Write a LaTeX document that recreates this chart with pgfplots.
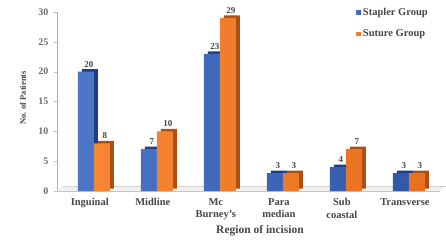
\documentclass[border=0pt]{standalone}
\usepackage{fontspec}
\setmainfont{Liberation Serif}
\usepackage{pgfplots}
\pgfplotsset{compat=1.18}
\definecolor{bfront}{RGB}{76,118,200}
\definecolor{bfrontd}{RGB}{50,88,170}
\definecolor{bside}{RGB}{33,60,128}
\definecolor{ofront}{RGB}{246,134,52}
\definecolor{ofrontd}{RGB}{232,112,30}
\definecolor{oside}{RGB}{168,80,22}
\definecolor{tgray}{RGB}{70,70,70}
\begin{document}
\begin{tikzpicture}
\begin{axis}[
  at={(57pt,51pt)}, anchor=south west,
  scale only axis, width=383pt, height=179pt,
  xmin=-0.52, xmax=5.556, ymin=0, ymax=30,
  ybar, bar width=16pt,
  xtick={0,1,2,3,4,5},
  xticklabels={Inguinal,Midline,{Mc\\Burney's},{Para\\median},{Sub\\coastal},Transverse},
  xticklabel style={align=center, font=\fontsize{10.5}{12.5}\selectfont\bfseries, text=tgray, anchor=north, yshift=-1pt},
  ytick={0,5,...,30},
  yticklabel style={font=\fontsize{10}{11}\selectfont\bfseries, text=gray!85!black, xshift=-2pt},
  /pgf/number format/assume math mode=true,
  axis x line*=bottom,
  x axis line style={draw=none},
  xtick style={draw=none},
  axis y line*=left,
  y axis line style={draw=gray!60, -},
  ytick style={draw=gray!50},
  major tick length=3pt,
  tick align=outside,
  clip=false,
  legend style={at={(0.78,1.035)}, anchor=north west, draw=none, fill=none,
    font=\fontsize{10.5}{12}\selectfont\bfseries, text=tgray, row sep=9pt, inner sep=0pt, cells={anchor=west}},
  legend cell align=left,
  nodes near coords,
  every node near coord/.append style={font=\fontsize{9}{10}\selectfont\bfseries, text=tgray, xshift=3pt, yshift=1pt},
]
% floor
\fill[gray!12] (axis cs:-0.52,0) -- (axis cs:5.556,0) -- ([xshift=6pt,yshift=5pt]axis cs:5.556,0) -- ([xshift=6pt,yshift=5pt]axis cs:-0.52,0) -- cycle;
\draw[gray!45] (axis cs:-0.52,0) -- (axis cs:5.556,0);
\draw[gray!35] ([xshift=6pt,yshift=5pt]axis cs:-0.52,0) -- ([xshift=6pt,yshift=5pt]axis cs:5.556,0);
% side faces
\addplot[forget plot, draw=none, fill=bside, bar shift=-4pt, xshift=4pt, yshift=2.5pt, nodes near coords={}] coordinates {(0,20) (1,7) (2,23) (3,3) (4,4) (5,3)};
\addplot[forget plot, draw=none, fill=oside, bar shift=12pt, xshift=4pt, yshift=2.5pt, nodes near coords={}] coordinates {(0,8) (1,10) (2,29) (3,3) (4,7) (5,3)};
% fronts
\addplot[draw=none, left color=bfront, right color=bfrontd, bar shift=-4pt,
  legend image code/.code={\fill[bfront] (0pt,-1.8pt) rectangle (5pt,1.8pt);}]
  coordinates {(0,20) (1,7) (2,23) (3,3) (4,4) (5,3)};
\addplot[draw=none, left color=ofront, right color=ofrontd, bar shift=12pt,
  legend image code/.code={\fill[ofront] (0pt,-1.8pt) rectangle (5pt,1.8pt);}]
  coordinates {(0,8) (1,10) (2,29) (3,3) (4,7) (5,3)};
\legend{Stapler Group, Suture Group}
\node[font=\fontsize{11.5}{13}\selectfont\bfseries, text=tgray] at ([yshift=-40pt]axis cs:2.7,0) {Region of incision};
\node[rotate=90, font=\fontsize{8.5}{9}\selectfont\bfseries, text=tgray] at ([xshift=-34pt]rel axis cs:0,0.52) {No. of Patients};
\end{axis}
\pgfresetboundingbox
\path (0,0) rectangle (446pt,242pt);
\end{tikzpicture}
\end{document}
